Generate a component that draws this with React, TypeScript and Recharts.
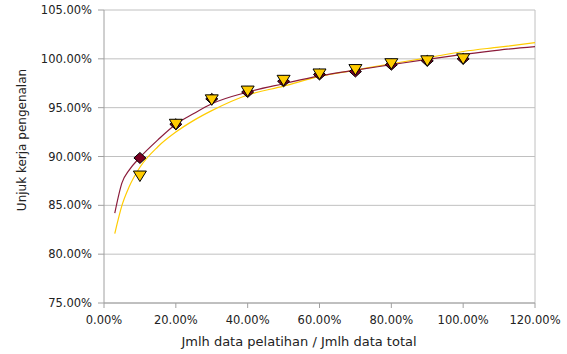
import { ComposedChart, Line, Scatter, XAxis, YAxis, CartesianGrid, ReferenceLine } from "recharts"

// training share (%) for the measured points
const pointX = [10, 20, 30, 40, 50, 60, 70, 80, 90, 100]
// recognition performance (%)
const maroonValues = [89.85, 93.3, 95.9, 96.6, 97.7, 98.4, 98.7, 99.4, 99.8, 100.0]
const yellowValues = [88.0, 93.3, 95.8, 96.7, 97.8, 98.45, 98.9, 99.5, 99.8, 100.0]

// log trendlines
const trendX = [3, 5, 7, 10, 15, 20, 25, 30, 40, 50, 60, 70, 80, 90, 100, 110, 120]
const maroonTrend = [84.2, 87.3, 88.6, 89.9, 91.7, 93.3, 94.4, 95.4, 96.6, 97.45, 98.25, 98.85, 99.4, 99.95, 100.45, 100.9, 101.25]
const yellowTrend = [82.1, 85.0, 86.9, 88.9, 91.0, 92.5, 93.7, 94.7, 96.3, 97.2, 98.2, 98.85, 99.5, 100.1, 100.75, 101.2, 101.65]

const xTicks = [0, 20, 40, 60, 80, 100, 120]
const yTicks = [75, 80, 85, 90, 95, 100, 105]

const maroon = "#7a0022"
const maroonLine = "#8b1c3b"
const yellow = "#ffcc00"
const font = "'DejaVu Sans', sans-serif"

const ptsMaroon = pointX.map((x, i) => ({ x, y: maroonValues[i] }))
const ptsYellow = pointX.map((x, i) => ({ x, y: yellowValues[i] }))
const lineMaroon = trendX.map((x, i) => ({ x, y: maroonTrend[i] }))
const lineYellow = trendX.map((x, i) => ({ x, y: yellowTrend[i] }))

const Diamond = (props: any) => {
  const { cx, cy } = props
  if (cx == null || cy == null) return null
  return <path d={`M${cx},${cy - 5.5} L${cx + 6},${cy} L${cx},${cy + 5.5} L${cx - 6},${cy} Z`} fill={maroon} stroke="#000" strokeWidth={1} />
}

const Triangle = (props: any) => {
  const { cx, cy } = props
  if (cx == null || cy == null) return null
  return <path d={`M${cx - 6.5},${cy - 5} L${cx + 6.5},${cy - 5} L${cx},${cy + 5.5} Z`} fill={yellow} stroke="#000" strokeWidth={1} />
}

const fmt = (v: number) => `${v.toFixed(2)}%`

export default function App() {
  return (
    <div style={{ position: "absolute", left: 0, top: 0, fontFamily: font }}>
      <ComposedChart width={567} height={354} margin={{ top: 10, right: 32, left: 44, bottom: 0 }}>
        <CartesianGrid vertical={false} stroke="#c0c0c0" />
        <ReferenceLine x={120} stroke="#c0c0c0" />
        <XAxis
          type="number"
          dataKey="x"
          domain={[0, 120]}
          ticks={xTicks}
          tickFormatter={fmt}
          stroke="#a0a0a0"
          tickSize={5}
          tickMargin={8}
          tick={{ fill: "#222", fontSize: 11.5, fontFamily: font }}
          height={51}
          allowDuplicatedCategory={false}
          label={{
            content: () => (
              <text x={299} y={346} textAnchor="middle" fill="#222" fontSize={13} fontFamily={font}>
                Jmlh data pelatihan / Jmlh data total
              </text>
            ),
          }}
        />
        <YAxis
          type="number"
          dataKey="y"
          domain={[75, 105]}
          ticks={yTicks}
          tickFormatter={fmt}
          stroke="#a0a0a0"
          tickSize={6}
          tickMargin={6}
          tick={{ fill: "#222", fontSize: 11.5, fontFamily: font }}
          width={60}
          label={{
            content: () => (
              <text x={26} y={140} transform="rotate(-90 26 140)" textAnchor="middle" fill="#222" fontSize={12} fontFamily={font}>
                Unjuk kerja pengenalan
              </text>
            ),
          }}
        />
        <Line data={lineYellow} dataKey="y" type="monotone" stroke={yellow} strokeWidth={1.2} dot={false} isAnimationActive={false} />
        <Line data={lineMaroon} dataKey="y" type="monotone" stroke={maroonLine} strokeWidth={1.2} dot={false} isAnimationActive={false} />
        <Scatter data={ptsMaroon} dataKey="y" shape={<Diamond />} isAnimationActive={false} />
        <Scatter data={ptsYellow} dataKey="y" shape={<Triangle />} isAnimationActive={false} />
      </ComposedChart>
    </div>
  )
}
